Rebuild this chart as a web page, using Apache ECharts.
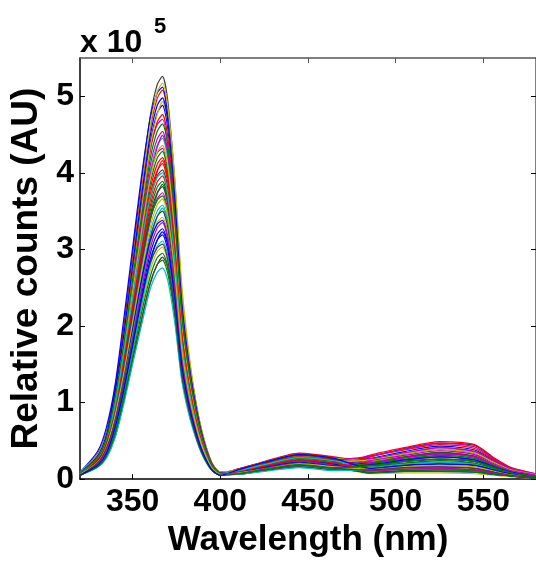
<!DOCTYPE html>
<html>
<head>
<meta charset="utf-8">
<script src="https://cdn.jsdelivr.net/npm/echarts@6/dist/echarts.min.js"></script>
<style>
html,body{margin:0;padding:0;background:#fff;}
#chart{width:536px;height:563px;}
</style>
</head>
<body>
<div id="chart"></div>
<script>
const wl = [320,330,335,340,345,350,355,360,364,367,370,374,378,382,386,390,395,400,410,425,445,465,485,505,525,545,556,566,580];
// Relative counts, in units of 10^5
const c1  = [.09,.32,.60,1.20,2.00,2.95,3.88,4.73,5.15,5.26,4.95,3.90,2.45,1.62,1.02,.58,.22,.09,.10,.18,.26,.22,.29,.40,.47,.44,.27,.14,.06];
const c2  = [.09,.32,.59,1.08,1.85,2.80,3.70,4.60,5.06,5.17,4.87,3.95,2.55,1.67,1.00,.57,.22,.09,.12,.22,.32,.27,.24,.31,.37,.32,.20,.11,.05];
const c3  = [.09,.31,.58,1.16,1.93,2.84,3.75,4.57,4.97,5.08,4.78,3.76,2.37,1.57,.99,.56,.21,.09,.08,.14,.21,.16,.31,.41,.49,.45,.28,.15,.07];
const c4  = [.08,.30,.57,1.14,1.89,2.79,3.68,4.48,4.88,4.98,4.69,3.69,2.32,1.53,.97,.55,.21,.08,.11,.19,.28,.24,.19,.25,.29,.25,.16,.09,.04];
const c5  = [.08,.30,.56,1.11,1.85,2.73,3.60,4.39,4.78,4.88,4.59,3.62,2.27,1.50,.95,.54,.20,.08,.10,.17,.25,.20,.27,.36,.43,.38,.24,.13,.06];
const c6  = [.08,.29,.54,1.09,1.81,2.67,3.51,4.28,4.66,4.76,4.48,3.53,2.22,1.47,.92,.52,.20,.08,.13,.23,.34,.29,.21,.28,.33,.29,.18,.10,.05];
const c7  = [.08,.28,.53,1.06,1.76,2.60,3.42,4.18,4.54,4.64,4.37,3.44,2.16,1.43,.90,.51,.19,.08,.07,.13,.19,.15,.17,.21,.24,.21,.14,.08,.03];
const c8  = [.08,.28,.52,1.04,1.73,2.54,3.35,4.09,4.44,4.54,4.27,3.36,2.12,1.39,.88,.50,.19,.08,.12,.20,.30,.25,.30,.39,.47,.42,.26,.14,.07];
const c9  = [.08,.27,.51,1.01,1.69,2.49,3.28,4.01,4.36,4.45,4.19,3.30,2.07,1.37,.86,.49,.19,.08,.09,.15,.23,.18,.14,.18,.20,.18,.12,.07,.03];
const c10 = [.07,.27,.50,.99,1.66,2.44,3.22,3.92,4.27,4.36,4.10,3.23,2.03,1.34,.85,.48,.18,.07,.11,.18,.27,.23,.25,.33,.39,.34,.22,.12,.06];
const c11 = [.07,.26,.49,.98,1.63,2.40,3.16,3.85,4.19,4.28,4.03,3.17,1.99,1.32,.83,.47,.18,.07,.07,.11,.17,.13,.20,.26,.31,.27,.17,.10,.04];
const c12 = [.07,.26,.48,.96,1.60,2.35,3.10,3.78,4.11,4.20,3.95,3.11,1.96,1.30,.81,.46,.18,.07,.13,.22,.33,.28,.26,.34,.41,.36,.23,.13,.06];
const c13 = [.07,.25,.47,.94,1.57,2.31,3.04,3.71,4.03,4.12,3.88,3.05,1.92,1.26,.80,.45,.17,.07,.10,.17,.25,.21,.12,.15,.16,.14,.09,.05,.02];
const c14 = [.07,.25,.46,.92,1.54,2.26,2.98,3.64,3.96,4.04,3.80,2.99,1.88,1.24,.78,.44,.17,.07,.08,.15,.22,.17,.23,.29,.35,.30,.19,.11,.05];
const c15 = [.07,.24,.45,.90,1.50,2.22,2.92,3.56,3.88,3.96,3.73,2.93,1.85,1.22,.77,.44,.17,.07,.11,.20,.29,.25,.18,.23,.26,.23,.15,.08,.04];
const c16 = [.07,.24,.44,.89,1.48,2.18,2.87,3.50,3.81,3.89,3.66,2.88,1.81,1.20,.75,.43,.16,.07,.07,.12,.18,.14,.09,.11,.12,.11,.07,.04,.02];
const c17 = [.06,.23,.44,.87,1.45,2.14,2.82,3.44,3.74,3.82,3.59,2.83,1.78,1.18,.74,.42,.16,.06,.12,.21,.31,.26,.15,.20,.22,.20,.13,.07,.03];
const c18 = [.06,.23,.43,.85,1.42,2.09,2.76,3.37,3.66,3.74,3.52,2.77,1.74,1.16,.73,.41,.16,.06,.09,.16,.24,.19,.21,.28,.33,.29,.18,.10,.05];
const c19 = [.06,.22,.42,.83,1.39,2.05,2.70,3.29,3.58,3.66,3.44,2.71,1.71,1.12,.71,.40,.15,.06,.08,.13,.20,.16,.13,.16,.18,.16,.11,.06,.03];
const c20 = [.06,.22,.41,.82,1.36,2.00,2.64,3.22,3.50,3.58,3.37,2.65,1.67,1.10,.69,.39,.15,.06,.10,.18,.26,.22,.19,.25,.29,.25,.16,.09,.04];
const c21 = [.06,.21,.40,.80,1.33,1.96,2.58,3.15,3.43,3.50,3.29,2.59,1.63,1.08,.68,.39,.15,.06,.06,.11,.16,.12,.11,.13,.14,.12,.08,.05,.02];
const c22 = [.06,.20,.36,.72,1.26,1.86,2.50,3.06,3.35,3.42,3.22,2.53,1.59,1.05,.66,.38,.14,.06,.11,.19,.28,.24,.17,.21,.24,.21,.14,.08,.03];
const c23 = [.06,.20,.36,.72,1.24,1.83,2.46,3.01,3.28,3.35,3.15,2.48,1.56,1.03,.65,.37,.14,.06,.08,.14,.21,.16,.24,.31,.37,.32,.20,.11,.05];
const c24 = [.05,.19,.34,.69,1.20,1.78,2.40,2.94,3.20,3.27,3.08,2.42,1.52,1.00,.63,.36,.14,.06,.10,.17,.25,.20,.08,.10,.10,.09,.06,.04,.01];
const c25 = [.05,.18,.33,.67,1.16,1.74,2.34,2.86,3.12,3.19,3.00,2.36,1.49,.98,.62,.35,.13,.05,.12,.22,.32,.27,.14,.18,.20,.18,.12,.07,.03];
const c26 = [.05,.18,.32,.64,1.13,1.69,2.28,2.79,3.04,3.11,2.93,2.30,1.45,.96,.60,.34,.13,.05,.06,.10,.15,.11,.12,.15,.16,.14,.09,.05,.02];
const c27 = [.05,.17,.31,.62,1.10,1.65,2.22,2.72,2.97,3.03,2.85,2.25,1.41,.93,.59,.33,.13,.05,.09,.15,.23,.18,.07,.08,.08,.07,.05,.03,.01];
const c28 = [.05,.16,.30,.60,1.06,1.60,2.16,2.64,2.89,2.95,2.78,2.19,1.37,.91,.57,.32,.12,.05,.11,.18,.27,.23,.18,.23,.26,.23,.15,.08,.04];
const c29 = [.05,.16,.29,.57,1.02,1.55,2.08,2.56,2.80,2.86,2.69,2.12,1.33,.89,.55,.31,.12,.05,.07,.13,.19,.15,.09,.11,.12,.11,.07,.04,.02];
const c30 = [.05,.15,.27,.54,.98,1.50,2.00,2.48,2.70,2.76,2.60,2.05,1.29,.85,.54,.30,.12,.05,.07,.11,.17,.13,.15,.20,.22,.20,.13,.07,.03];
const d1  = [.09,.36,.67,1.23,2.10,3.02,3.94,4.71,5.04,5.12,4.76,3.69,2.30,1.52,.95,.54,.20,.09,.09,.16,.24,.19,.21,.28,.33,.29,.18,.10,.05];
const d2  = [.08,.27,.49,.94,1.73,2.61,3.50,4.34,4.76,4.93,4.68,3.75,2.42,1.60,1.01,.58,.23,.09,.12,.20,.30,.25,.13,.16,.18,.16,.11,.06,.03];
const d3  = [.08,.33,.61,1.13,1.93,2.77,3.62,4.32,4.63,4.70,4.37,3.38,2.12,1.39,.87,.49,.19,.08,.07,.13,.19,.15,.26,.34,.41,.36,.23,.13,.06];
const d4  = [.08,.25,.45,.85,1.57,2.38,3.19,3.95,4.33,4.49,4.27,3.41,2.20,1.46,.92,.53,.21,.08,.10,.18,.26,.22,.11,.13,.14,.12,.08,.05,.02];
const d5  = [.07,.30,.56,1.04,1.77,2.55,3.33,3.97,4.26,4.32,4.02,3.11,1.94,1.29,.80,.45,.17,.07,.13,.22,.33,.28,.19,.25,.29,.25,.16,.09,.04];
const d6  = [.07,.23,.42,.79,1.46,2.20,2.95,3.66,4.01,4.16,3.95,3.16,2.04,1.35,.85,.49,.19,.07,.08,.14,.21,.16,.29,.38,.45,.40,.25,.14,.06];
const d7  = [.07,.28,.52,.96,1.64,2.36,3.08,3.68,3.94,4.00,3.72,2.88,1.80,1.19,.74,.42,.16,.07,.11,.19,.28,.24,.15,.20,.22,.20,.13,.07,.03];
const d8  = [.07,.21,.39,.73,1.35,2.04,2.73,3.39,3.72,3.85,3.66,2.93,1.89,1.25,.79,.45,.18,.07,.07,.11,.17,.13,.23,.29,.35,.30,.19,.11,.05];
const d9  = [.06,.26,.48,.89,1.52,2.18,2.85,3.40,3.64,3.70,3.44,2.66,1.67,1.10,.68,.39,.15,.06,.10,.17,.25,.21,.08,.10,.10,.09,.06,.04,.01];
const d10 = [.06,.19,.35,.67,1.24,1.88,2.51,3.12,3.42,3.54,3.36,2.69,1.73,1.14,.73,.42,.16,.06,.12,.21,.31,.26,.20,.26,.31,.27,.17,.10,.04];
const d11 = [.06,.24,.44,.81,1.39,1.99,2.60,3.11,3.33,3.38,3.14,2.43,1.52,1.00,.63,.35,.14,.06,.08,.15,.22,.17,.18,.23,.26,.23,.15,.08,.04];
const d12 = [.06,.18,.32,.61,1.13,1.71,2.29,2.84,3.12,3.23,3.07,2.45,1.58,1.05,.66,.38,.15,.06,.11,.18,.27,.23,.25,.33,.39,.34,.22,.12,.06];
const d13 = [.05,.21,.40,.74,1.26,1.81,2.36,2.82,3.02,3.07,2.86,2.21,1.38,.91,.57,.32,.12,.05,.07,.12,.18,.14,.12,.15,.16,.14,.09,.05,.02];
const d14 = [.05,.16,.29,.55,1.02,1.54,2.06,2.55,2.80,2.90,2.76,2.20,1.42,.94,.59,.34,.13,.05,.10,.17,.25,.20,.14,.18,.20,.18,.12,.07,.03];

// plotting order of the spectra
const spectra = [c5,d8,c12,c20,d3,c27,c1,d12,c16,c3,c9,d5,c22,c14,d1,c29,c6,d10,c18,c2,d14,c24,c11,d6,c30,c8,d2,c21,c4,d9,c15,c26,d4,c10,c17,d11,c28,c13,d7,c23,c19,d13,c25,c7];
// tick labels
const xTicks = [350,400,450,500,550];
const yTicks = [0,1,2,3,4,5];
// MATLAB classic line colour order
const colorOrder = ['#0000ff','#008000','#ff0000','#00bfbf','#bf00bf','#bfbf00','#404040'];

const FONT = 'Liberation Sans, Arial, Helvetica, sans-serif';
const chart = echarts.init(document.getElementById('chart'), null, {renderer:'canvas'});

const series = spectra.map((arr, k) => ({
  type: 'line',
  xAxisIndex: 0, yAxisIndex: 0,
  data: wl.map((x, i) => [x, arr[i]]),
  showSymbol: false, symbol: 'none',
  smooth: 0.25,
  lineStyle: {width: 1.2, color: colorOrder[k % colorOrder.length]},
  emphasis: {disabled: true},
  silent: true,
  z: 2
}));

chart.setOption({
  animation: false,
  backgroundColor: '#ffffff',
  grid: {left: 80, top: 58, right: -4, bottom: 76, containLabel: false},
  xAxis: [{
    type: 'value', min: 320, max: 580, position: 'bottom',
    axisLine: {show: true, onZero: false, lineStyle: {color: '#000', width: 1.5}},
    axisTick: {show: true, inside: true, length: 5, customValues: xTicks, lineStyle: {color: '#000', width: 1}},
    axisLabel: {show: true, customValues: xTicks, margin: 7, color: '#000', fontFamily: FONT, fontWeight: 'bold', fontSize: 32},
    splitLine: {show: false},
    name: 'Wavelength (nm)', nameLocation: 'middle', nameGap: 38,
    nameTextStyle: {color: '#000', fontFamily: FONT, fontWeight: 'bold', fontSize: 35}
  }, {
    type: 'value', min: 320, max: 580, position: 'top',
    axisLine: {show: true, onZero: false, lineStyle: {color: '#555', width: 1.5}},
    axisTick: {show: true, inside: true, length: 5, customValues: xTicks, lineStyle: {color: '#555', width: 1}},
    axisLabel: {show: false},
    splitLine: {show: false}
  }],
  yAxis: [{
    type: 'value', min: 0, max: 5.5, position: 'left',
    axisLine: {show: true, onZero: false, lineStyle: {color: '#000', width: 1.5}},
    axisTick: {show: true, inside: true, length: 5, customValues: yTicks, lineStyle: {color: '#000', width: 1}},
    axisLabel: {show: true, customValues: yTicks, margin: 6, color: '#000', fontFamily: FONT, fontWeight: 'bold', fontSize: 32},
    splitLine: {show: false},
    name: 'Relative counts (AU)', nameLocation: 'middle', nameGap: 30, nameRotate: 90,
    nameTextStyle: {color: '#000', fontFamily: FONT, fontWeight: 'bold', fontSize: 37}
  }, {
    type: 'value', min: 0, max: 5.5, position: 'right',
    axisLine: {show: true, onZero: false, lineStyle: {color: '#555', width: 1.5}},
    axisTick: {show: true, inside: true, length: 5, customValues: yTicks, lineStyle: {color: '#000', width: 1}},
    axisLabel: {show: false},
    splitLine: {show: false}
  }],
  graphic: [
    {type: 'text', z: 10, style: {x: 80, y: 43, text: 'x 10', fill: '#000', font: 'bold 32px ' + FONT, textAlign: 'left', textVerticalAlign: 'middle'}},
    {type: 'text', z: 10, style: {x: 154, y: 27, text: '5', fill: '#000', font: 'bold 22px ' + FONT, textAlign: 'left', textVerticalAlign: 'middle'}}
  ],
  series: series
});
</script>
</body>
</html>
